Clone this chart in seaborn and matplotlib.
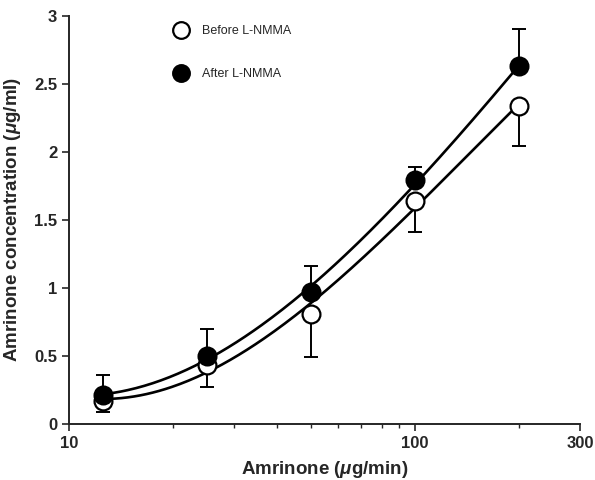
from matplotlib import pyplot as plt
from matplotlib.lines import Line2D
import seaborn as sns
import pandas as pd
import numpy as np

# data
dose = [12.5, 25, 50, 100, 200]
before = [0.17, 0.43, 0.81, 1.64, 2.34]
before_err = [0.08, 0.16, 0.32, 0.23, 0.30]   # lower bars only
after = [0.21, 0.50, 0.97, 1.79, 2.63]
after_err = [0.15, 0.20, 0.19, 0.10, 0.27]    # upper bars only

sns.set_style("ticks")
plt.rcParams['font.family'] = ['Liberation Sans', 'DejaVu Sans']
plt.rcParams['mathtext.fontset'] = 'custom'
plt.rcParams['mathtext.it'] = 'Liberation Sans:italic:bold'
plt.rcParams['mathtext.rm'] = 'Liberation Sans:bold'

fig = plt.figure(figsize=(5.95, 4.8), dpi=100)
ax = fig.add_axes([0.116, 0.117, 0.859, 0.85])

# smooth fitted curves (cubic in log dose)
xs = np.logspace(np.log10(dose[0]), np.log10(dose[-1]), 200)
fits = []
for name, y in [("Before L-NMMA", before), ("After L-NMMA", after)]:
    c = np.polyfit(np.log10(dose), y, 3)
    fits.append(pd.DataFrame({"dose": xs, "conc": np.polyval(c, np.log10(xs)), "group": name}))
fit = pd.concat(fits)
sns.lineplot(data=fit, x="dose", y="conc", units="group", estimator=None,
             color="black", lw=1.9, ax=ax, legend=False)

ax.errorbar(dose, after, yerr=[np.zeros(5), after_err], fmt="none",
            ecolor="black", elinewidth=1.4, capsize=5, capthick=1.4, zorder=3)
ax.errorbar(dose, before, yerr=[before_err, np.zeros(5)], fmt="none",
            ecolor="black", elinewidth=1.4, capsize=5, capthick=1.4, zorder=3)

pts = pd.DataFrame({"dose": dose * 2, "conc": before + after,
                    "group": ["Before L-NMMA"] * 5 + ["After L-NMMA"] * 5})
sns.scatterplot(data=pts[pts.group == "Before L-NMMA"], x="dose", y="conc",
                color="white", edgecolor="black", linewidth=1.6, s=165, ax=ax, zorder=4)
sns.scatterplot(data=pts[pts.group == "After L-NMMA"], x="dose", y="conc",
                color="black", edgecolor="black", linewidth=1.6, s=165, ax=ax, zorder=5)

ax.set_xscale("log")
ax.set_xlim(10, 300)
ax.set_ylim(0, 3)
ax.set_xticks([10, 100, 300])
ax.set_xticklabels(["10", "100", "300"])
ax.set_yticks([0, 0.5, 1, 1.5, 2, 2.5, 3])
ax.set_yticklabels(["0", "0.5", "1", "1.5", "2", "2.5", "3"])
ax.tick_params(axis="both", which="major", labelsize=12, width=1.2, length=5)
ax.tick_params(axis="x", which="minor", width=1, length=3)
for lab in ax.get_xticklabels() + ax.get_yticklabels():
    lab.set_fontweight("bold")
for s in ["left", "bottom"]:
    ax.spines[s].set_linewidth(1.4)
sns.despine(ax=ax)

ax.set_xlabel(r"Amrinone ($\mu$g/min)", fontsize=13.5, fontweight="bold", labelpad=6)
ax.set_ylabel(r"Amrinone concentration ($\mu$g/ml)", fontsize=13.5, fontweight="bold", labelpad=8)

handles = [Line2D([], [], marker="o", ls="none", mfc="white", mec="black", mew=1.6, ms=12),
           Line2D([], [], marker="o", ls="none", mfc="black", mec="black", mew=1.6, ms=12)]
ax.legend(handles, ["Before L-NMMA", "After L-NMMA"], loc="upper left",
          bbox_to_anchor=(0.183, 1.004), frameon=False, fontsize=9,
          labelspacing=2.45, handletextpad=1.05, handlelength=1.2)

fig.savefig("out.png", dpi=100)
